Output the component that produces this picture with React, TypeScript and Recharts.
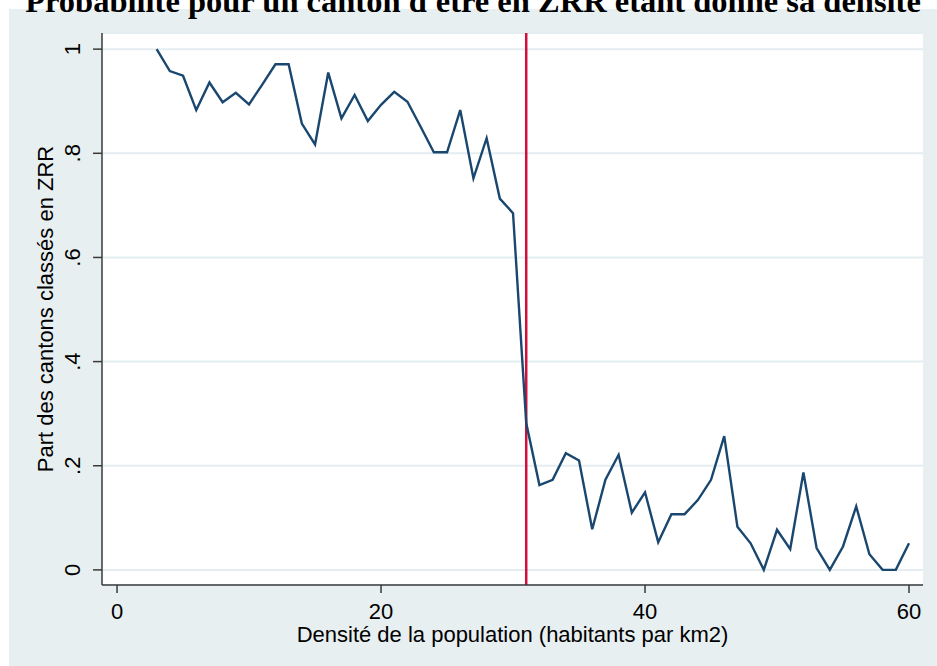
import { LineChart, Line, XAxis, YAxis, CartesianGrid, ReferenceLine } from 'recharts';

// densité (habitants par km2)
const density = [
  3, 4, 5, 6, 7, 8, 9, 10, 11, 12, 13, 14, 15, 16, 17, 18, 19, 20, 21, 22, 23, 24, 25, 26, 27, 28, 29, 30,
  31, 32, 33, 34, 35, 36, 37, 38, 39, 40, 41, 42, 43, 44, 45, 46, 47, 48, 49, 50, 51, 52, 53, 54, 55, 56,
  57, 58, 59, 60,
];

// part des cantons classés en ZRR
const shareZrr = [
  1.0, 0.958, 0.949, 0.883, 0.936, 0.898, 0.916, 0.894, 0.932, 0.971, 0.971, 0.857, 0.817, 0.955, 0.867,
  0.912, 0.862, 0.893, 0.918, 0.899, 0.851, 0.802, 0.802, 0.883, 0.752, 0.829, 0.713, 0.685,
  0.282, 0.163, 0.173, 0.224, 0.21, 0.078, 0.173, 0.221, 0.11, 0.149, 0.053, 0.107, 0.107, 0.134, 0.173,
  0.257, 0.083, 0.051, 0, 0.077, 0.04, 0.187, 0.042, 0, 0.045, 0.122, 0.03, 0, 0, 0.051,
];

const xTicks = [0, 20, 40, 60];
const yTicks = [0, 0.2, 0.4, 0.6, 0.8, 1];
const threshold = 31;

const data = density.map((d, i) => ({ density: d, share: shareZrr[i] }));

const SANS = '"Liberation Sans", Arial, sans-serif';
const AXIS = '#3a3a3a';

// Stata style: ".2" instead of "0.2"
const fmtY = (v: number) => (v === 0 ? '0' : v === 1 ? '1' : String(v).replace(/^0/, ''));

const YTick = ({ x, y, payload }: any) => (
  <text
    x={x - 13}
    y={y}
    transform={`rotate(-90, ${x - 13}, ${y})`}
    textAnchor="middle"
    fontFamily={SANS}
    fontSize={22}
    fill="#000"
  >
    {fmtY(payload.value)}
  </text>
);

const XTick = ({ x, y, payload }: any) => (
  <text x={x} y={y + 26} textAnchor="middle" fontFamily={SANS} fontSize={22} fill="#000">
    {payload.value}
  </text>
);

export default function App() {
  return (
    <div style={{ position: 'absolute', left: 0, top: 0, width: 937, height: 666, overflow: 'hidden', background: '#fff' }}>
      <div style={{ position: 'absolute', left: 9, top: 9, width: 928, height: 657, background: '#e8eff1' }} />
      <div
        style={{
          position: 'absolute',
          left: 9,
          width: 928,
          top: -15,
          textAlign: 'center',
          whiteSpace: 'nowrap',
          fontFamily: '"Liberation Serif", "Times New Roman", serif',
          fontWeight: 'bold',
          fontSize: 32.5,
          lineHeight: '32px',
          color: '#000',
        }}
      >
        Probabilité pour un canton d'être en ZRR étant donné sa densité
      </div>
      <div style={{ position: 'absolute', left: 0, top: 0 }}>
        <LineChart width={937} height={666} data={data} margin={{ top: 33, right: 14, left: 42, bottom: 31 }}>
          <CartesianGrid vertical={false} stroke="#e4edf0" strokeWidth={2} fill="#ffffff" />
          <XAxis
            dataKey="density"
            type="number"
            domain={[-1.14, 61.06]}
            ticks={xTicks}
            allowDataOverflow
            height={50}
            tickSize={8}
            tickMargin={0}
            axisLine={{ stroke: AXIS, strokeWidth: 1.5 }}
            tickLine={{ stroke: AXIS, strokeWidth: 1.5 }}
            tick={<XTick />}
          />
          <YAxis
            type="number"
            domain={[-0.029, 1.031]}
            ticks={yTicks}
            allowDataOverflow
            width={60}
            tickSize={9}
            tickMargin={0}
            axisLine={{ stroke: AXIS, strokeWidth: 1.5 }}
            tickLine={{ stroke: AXIS, strokeWidth: 1.5 }}
            tick={<YTick />}
          />
          <ReferenceLine x={threshold} stroke="#d0103a" strokeWidth={2.5} />
          <Line
            type="linear"
            dataKey="share"
            stroke="#1a476f"
            strokeWidth={2.4}
            dot={false}
            isAnimationActive={false}
          />
        </LineChart>
      </div>
      <div
        style={{
          position: 'absolute',
          left: 46 - 200,
          top: 309 - 11,
          width: 400,
          height: 22,
          transform: 'rotate(-90deg)',
          transformOrigin: '50% 50%',
          textAlign: 'center',
          whiteSpace: 'nowrap',
          fontFamily: SANS,
          fontSize: 22,
          lineHeight: '22px',
          color: '#000',
        }}
      >
        Part des cantons classés en ZRR
      </div>
      <div
        style={{
          position: 'absolute',
          left: 102,
          width: 821,
          top: 624,
          textAlign: 'center',
          whiteSpace: 'nowrap',
          fontFamily: SANS,
          fontSize: 22,
          lineHeight: '22px',
          color: '#000',
        }}
      >
        Densité de la population (habitants par km2)
      </div>
    </div>
  );
}
